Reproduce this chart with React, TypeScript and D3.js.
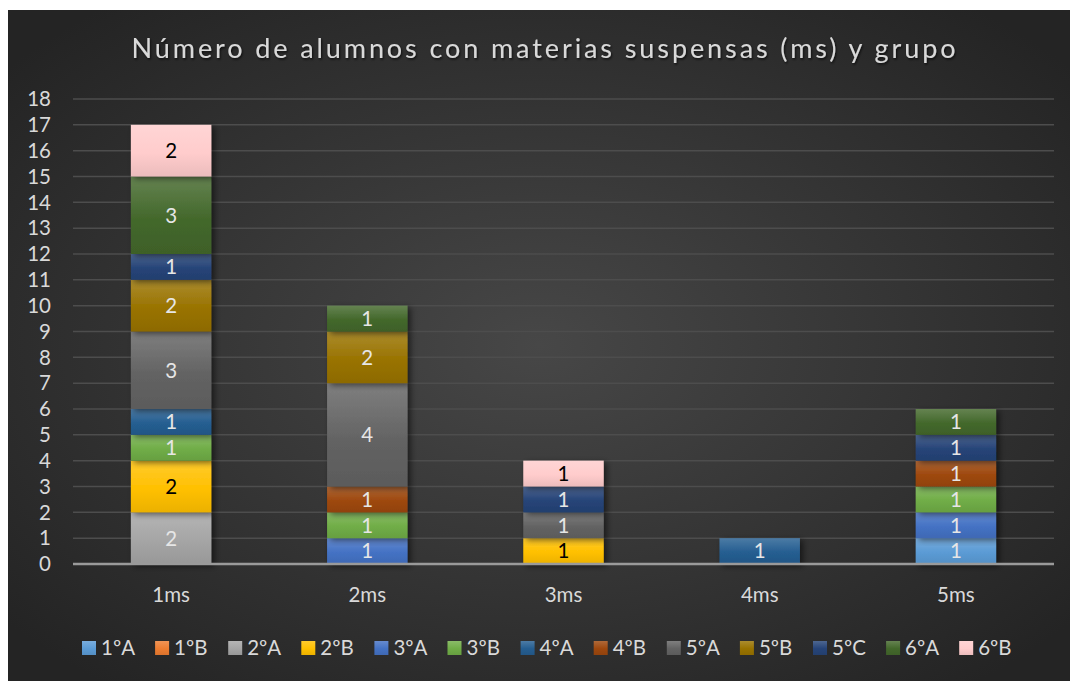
import React, { useEffect, useRef } from 'react';
import * as d3 from 'd3';

const categories = ['1ms', '2ms', '3ms', '4ms', '5ms'];
const groups = ['1ºA', '1ºB', '2ºA', '2ºB', '3ºA', '3ºB', '4ºA', '4ºB', '5ºA', '5ºB', '5ºC', '6ºA', '6ºB'];
const colors = ['#5b9bd5', '#ed7d31', '#a5a5a5', '#ffc000', '#4472c4', '#70ad47', '#255e91', '#9e480e', '#636363', '#997300', '#264478', '#43682b', '#ffcccc'];
// values per group, one per category (1ms..5ms)
const values = [
  [0, 0, 0, 0, 1], // 1ºA
  [0, 0, 0, 0, 0], // 1ºB
  [2, 0, 0, 0, 0], // 2ºA
  [2, 0, 1, 0, 0], // 2ºB
  [0, 1, 0, 0, 1], // 3ºA
  [1, 1, 0, 0, 1], // 3ºB
  [1, 0, 0, 1, 0], // 4ºA
  [0, 1, 0, 0, 1], // 4ºB
  [3, 4, 1, 0, 0], // 5ºA
  [2, 2, 0, 0, 0], // 5ºB
  [1, 0, 1, 0, 1], // 5ºC
  [3, 1, 0, 0, 1], // 6ºA
  [2, 0, 1, 0, 0], // 6ºB
];
const darkLabels = ['2ºB', '6ºB'];
const yTicks = d3.range(0, 19);
const title = 'Número de alumnos con materias suspensas (ms) y grupo';

export default function App() {
  const svgRef = useRef<SVGSVGElement | null>(null);

  useEffect(() => {
    const W = 1070, H = 681;
    const svg = d3.select(svgRef.current);
    svg.selectAll('*').remove();
    const font = 'Lato, "Open Sans", sans-serif';
    const textColor = '#d9d9d9';
    const fs = 20.5;

    const defs = svg.append('defs');
    const bg = defs.append('radialGradient').attr('id', 'bg')
      .attr('cx', '50%').attr('cy', '50%').attr('r', '65%');
    bg.append('stop').attr('offset', '0%').attr('stop-color', '#474747');
    bg.append('stop').attr('offset', '100%').attr('stop-color', '#242424');

    groups.forEach((g, i) => {
      const lg = defs.append('linearGradient').attr('id', 'g' + i)
        .attr('x1', 0).attr('y1', 0).attr('x2', 0).attr('y2', 1);
      lg.append('stop').attr('offset', '0%').attr('stop-color', d3.interpolateRgb(colors[i], '#ffffff')(0.18));
      lg.append('stop').attr('offset', '55%').attr('stop-color', colors[i]);
      lg.append('stop').attr('offset', '100%').attr('stop-color', d3.interpolateRgb(colors[i], '#000000')(0.08));
    });

    const shadow = defs.append('filter').attr('id', 'shadow')
      .attr('x', '-20%').attr('y', '-20%').attr('width', '150%').attr('height', '150%');
    shadow.append('feDropShadow').attr('dx', 3).attr('dy', 2).attr('stdDeviation', 3)
      .attr('flood-color', '#000').attr('flood-opacity', 0.55);

    const tshadow = defs.append('filter').attr('id', 'tshadow');
    tshadow.append('feDropShadow').attr('dx', 1).attr('dy', 1.5).attr('stdDeviation', 1)
      .attr('flood-color', '#000').attr('flood-opacity', 0.7);

    svg.append('rect').attr('width', W).attr('height', H).attr('fill', '#ffffff');
    svg.append('rect').attr('x', 8).attr('y', 10).attr('width', W - 8).attr('height', H - 10)
      .attr('fill', 'url(#bg)');

    const left = 73, right = 1054, top = 99, bottom = 564;

    const x = d3.scaleBand().domain(categories).range([left, right]).padding(0);
    const barW = x.bandwidth() * 0.41;
    const y = d3.scaleLinear().domain([0, 18]).range([bottom, top]);

    // grid lines
    svg.append('g').selectAll('line').data(yTicks.filter(t => t > 0)).join('line')
      .attr('x1', left).attr('x2', right)
      .attr('y1', d => y(d)).attr('y2', d => y(d))
      .attr('stroke', '#4d4d4d').attr('stroke-width', 1.5);

    // y labels
    svg.append('g').selectAll('text').data(yTicks).join('text')
      .attr('x', 51).attr('y', d => y(d)).attr('dy', '0.35em')
      .attr('text-anchor', 'end').attr('font-family', font).attr('font-size', fs)
      .attr('fill', textColor).text(d => d);

    // stacked bars
    const rows = categories.map((c, ci) => {
      const r: any = { cat: c };
      groups.forEach((g, gi) => { r[g] = values[gi][ci]; });
      return r;
    });
    const stacked = d3.stack<any>().keys(groups)(rows);

    const barsG = svg.append('g');
    stacked.forEach((layer, gi) => {
      layer.forEach((seg, ci) => {
        const v = seg[1] - seg[0];
        if (v <= 0) return;
        const cx = x(categories[ci])! + x.bandwidth() / 2;
        barsG.append('rect')
          .attr('x', cx - barW / 2).attr('width', barW)
          .attr('y', y(seg[1])).attr('height', y(seg[0]) - y(seg[1]))
          .attr('fill', `url(#g${gi})`).attr('filter', 'url(#shadow)');
      });
    });
    stacked.forEach((layer, gi) => {
      layer.forEach((seg, ci) => {
        const v = seg[1] - seg[0];
        if (v <= 0) return;
        const cx = x(categories[ci])! + x.bandwidth() / 2;
        barsG.append('text')
          .attr('x', cx).attr('y', (y(seg[0]) + y(seg[1])) / 2).attr('dy', '0.36em')
          .attr('text-anchor', 'middle').attr('font-family', font).attr('font-size', fs)
          .attr('fill', darkLabels.includes(groups[gi]) ? '#000000' : '#e6e6e6')
          .text(v);
      });
    });

    // axis line
    svg.append('line').attr('x1', left).attr('x2', right).attr('y1', bottom).attr('y2', bottom)
      .attr('stroke', '#9a9a9a').attr('stroke-width', 2.5);

    // category labels
    svg.append('g').selectAll('text').data(categories).join('text')
      .attr('x', d => x(d)! + x.bandwidth() / 2).attr('y', 602)
      .attr('text-anchor', 'middle').attr('font-family', font).attr('font-size', fs)
      .attr('fill', textColor).text(d => d);

    // title
    svg.append('text').attr('x', 545).attr('y', 58).attr('text-anchor', 'middle')
      .attr('font-family', font).attr('font-size', 27).attr('letter-spacing', 2.9)
      .attr('fill', textColor).attr('filter', 'url(#tshadow)').text(title);

    // legend
    const lg = svg.append('g');
    const step = 73.1, lx0 = 82, ly = 648;
    groups.forEach((g, i) => {
      const lx = lx0 + i * step;
      lg.append('rect').attr('x', lx).attr('y', ly - 7).attr('width', 14).attr('height', 14)
        .attr('fill', `url(#g${i})`);
      lg.append('text').attr('x', lx + 19).attr('y', ly).attr('dy', '0.36em')
        .attr('font-family', font).attr('font-size', fs).attr('fill', textColor).text(g);
    });
  }, []);

  return (
    <svg ref={svgRef} width={1070} height={681}
      style={{ position: 'absolute', left: 0, top: 0, display: 'block' }} />
  );
}
